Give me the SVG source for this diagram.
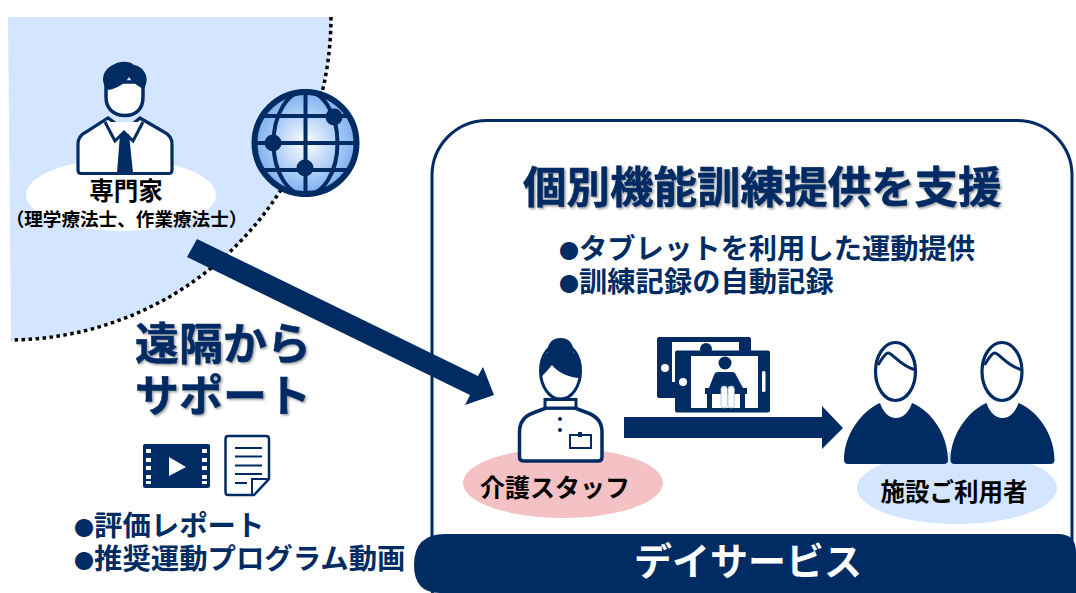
<svg xmlns="http://www.w3.org/2000/svg" width="1076" height="593" viewBox="0 0 1076 593">
<style>
text{font-family:"Noto Sans CJK JP","Noto Sans CJK SC",sans-serif;font-weight:700}
.n{fill:#002c63}
.k{fill:#000}
.m{text-anchor:middle}
.l{fill:none;stroke:#002c63}
.w{fill:#fff;stroke:#002c63}
.b{font-size:20px}
.h{stroke:#002c63;stroke-width:.5}
</style>
<defs>
<filter id="sh" x="-5%" y="-10%" width="110%" height="125%"><feDropShadow dx="1.5" dy="1.5" stdDeviation="1.2" flood-color="#000" flood-opacity=".4"/></filter>
<radialGradient id="gl" cx=".5" cy=".5" r=".55"><stop offset="0" stop-color="#fff"/><stop offset="1" stop-color="#6ea6ee"/></radialGradient>
<g id="user">
<path class="n" d="M844 460C844 436 860 412 880 403C883 412 889 418 896 418C903 418 909 412 912 403C933 412 948 436 948 460Q948 464 944 464H848Q844 464 844 460Z"/>
<ellipse cx="895.500" cy="371.500" rx="20" ry="29" fill="#fff" stroke="#002c63" stroke-width="3.200"/>
<path class="l" stroke-width="3" d="M878 365C882 359 885 353 888 353C893 353 900 366 916 370"/>
</g>
</defs>

<g id="remote-area">
<path d="M8 17H331A323 323 0 0 1 11 340Z" fill="#d3e5ff"/>
<path d="M331 17A323 323 0 0 1 11 340" fill="none" stroke="#000" stroke-width="3.500" stroke-dasharray="3.500 3.500"/>
</g>

<g id="expert">
<ellipse cx="121" cy="195" rx="95" ry="36" fill="#fff"/>
<path class="w" stroke-width="3.200" d="M78 170V144Q78 136 86 132L108 118L122 128H128L140 118L164 132Q172 136 172 144V170Q172 173.500 169 173.500H81Q78 173.500 78 170Z"/>
<path class="w" stroke-width="3" d="M105 122L115 141L124 132L133 141L143 122"/>
<path class="n" d="M120 134H129L133 173H117Z"/>
<path class="w" stroke-width="3.500" d="M106 82V97C106 109 114 115.500 125 115.500C136 115.500 143 109 143 97V82Z"/>
<path class="n" d="M108 90C101 84 101 72 111 66C118 61 129 60 134 65C142 66 149 75 146 84Q145 88 143 89C138 86 132 82 129 77C125 84 116 89 108 90Z"/>
<text class="k m" x="126" y="200" font-size="24.500">専門家</text>
<text class="k m" x="126.500" y="226" font-size="18.600">（理学療法士、作業療法士）</text>
</g>

<g id="globe">
<circle cx="305.500" cy="143" r="51" fill="url(#gl)" stroke="#002c63" stroke-width="6"/>
<ellipse cx="305.500" cy="143" rx="32" ry="52" class="l" stroke-width="4"/>
<path class="l" stroke-width="4" d="M305.500 91V195M254 143H357M264 116H347M264 170H347"/>
<circle cx="334" cy="117" r="8.500" class="n"/><circle cx="273" cy="143" r="8.500" class="n"/><circle cx="305" cy="168" r="8.500" class="n"/>
</g>

<g id="service-box">
<rect x="432" y="120.500" width="640" height="520" rx="55" fill="none" stroke="#002c63" stroke-width="3"/>
<path class="n" d="M414 565Q414 534 445 534H1058Q1076 534 1076 552V593H440Q414 593 414 565Z"/>
<text class="m" x="748" y="575" font-size="38" font-weight="500" fill="#fff">デイサービス</text>
</g>

<g id="heading">
<text class="n h" x="523" y="203" font-size="43.500" filter="url(#sh)">個別機能訓練提供を支援</text>
<text class="n" x="559" y="259" font-size="28.300"><tspan class="b">●</tspan>タブレットを利用した運動提供</text>
<text class="n" x="559" y="292" font-size="28.300"><tspan class="b">●</tspan>訓練記録の自動記録</text>
</g>

<g id="remote-support">
<text class="n h" x="135" y="360" font-size="44" filter="url(#sh)">遠隔から</text>
<text class="n h" x="135" y="412" font-size="44" filter="url(#sh)">サポート</text>
<text class="n" x="74" y="536" font-size="28.400"><tspan class="b">●</tspan>評価レポート</text>
<text class="n" x="74" y="569" font-size="28.400"><tspan class="b">●</tspan>推奨運動プログラム動画</text>
</g>

<g id="video-icon">
<rect x="143" y="444" width="67" height="44" rx="2" class="n"/>
<g fill="#fff">
<rect x="146" y="449" width="5" height="4"/><rect x="146" y="458" width="5" height="4"/><rect x="146" y="466" width="5" height="4"/><rect x="146" y="475" width="5" height="4"/><rect x="146" y="481" width="5" height="3"/>
<rect x="202" y="449" width="5" height="4"/><rect x="202" y="458" width="5" height="4"/><rect x="202" y="466" width="5" height="4"/><rect x="202" y="475" width="5" height="4"/><rect x="202" y="481" width="5" height="3"/>
<path d="M169 457L186 467L169 476Z"/>
</g>
</g>

<g id="report-icon">
<path class="w" stroke-width="2.500" d="M228 436H266Q269 436 269 439V479L254 495H228Q225.500 495 225.500 492V439Q225.500 436 228 436Z"/>
<path class="l" stroke-width="2" d="M235 448H262M235 456.500H262M235 465.500H262M235 474H262M235 483H247M269 479H252V495"/>
</g>

<g id="staff">
<ellipse cx="563" cy="483" rx="100" ry="35" fill="#f4c1c4"/>
<path class="w" stroke-width="3.500" d="M519.500 432C519.500 422 525 416 533 413L546 408H575L588 413C596 416 602 422 602 432V457Q602 461 598 461H524Q519.500 461 519.500 457Z"/>
<rect x="545" y="399.500" width="31" height="8.500" class="w" stroke-width="3"/>
<ellipse cx="560.500" cy="371" rx="20" ry="28" fill="#fff" stroke="#002c63" stroke-width="3"/>
<path class="n" d="M548 352C547 344 552 338 560.500 338C569 338 574 344 573 352C580 358 584 368 580 378C570 378 557 372 552 365C548 370 544 374 542 376C539 368 541 358 548 352Z"/>
<circle cx="560" cy="419" r="2" class="n"/><circle cx="560" cy="430" r="2" class="n"/>
<path class="l" stroke-width="2" d="M570 435H591V448H570Z"/><rect x="578" y="432" width="4" height="5" class="n"/>
</g>

<g id="tablet">
<rect x="657" y="337" width="94" height="61" rx="2" class="n"/>
<rect x="672" y="342" width="67" height="40" fill="#fff"/>
<circle cx="665" cy="368" r="4" fill="#fff"/>
<circle cx="706" cy="349" r="6" class="n"/>
<rect x="675" y="350.500" width="95" height="62" rx="2" class="n"/>
<rect x="691" y="356" width="67" height="52" fill="#fff"/>
<circle cx="683" cy="382" r="4" fill="#fff"/>
<rect x="762" y="371" width="3.500" height="21" rx="1.500" fill="#fff"/>
<circle cx="725" cy="363" r="6.500" class="n"/>
<path class="n" d="M718 372H732Q735 372 736 375L743 388H747V394H745V408H740V394H712V408H707V394H705V388H709L714 375Q715 372 718 372Z"/>
<rect x="721" y="386" width="6.300" height="22" rx="3" fill="#fff" stroke="#a9bcd4" stroke-width=".8"/>
<rect x="728" y="386" width="6.300" height="22" rx="3" fill="#fff" stroke="#a9bcd4" stroke-width=".8"/>
</g>

<g id="users">
<ellipse cx="957" cy="488" rx="100" ry="36" fill="#d3e5ff"/>
<use href="#user"/>
<use href="#user" x="106.500"/>
<text class="k m" x="954" y="501" font-size="24.500">施設ご利用者</text>
</g>

<text class="k m" x="555" y="497" font-size="25">介護スタッフ</text>

<g id="connectors">
<path class="n" d="M197 239L478 376L483 367L494 395L465 405L470 395L187 257Z"/>
<path class="n" d="M624 417H822V406L843 428L822 449V438H624Z"/>
</g>
</svg>
